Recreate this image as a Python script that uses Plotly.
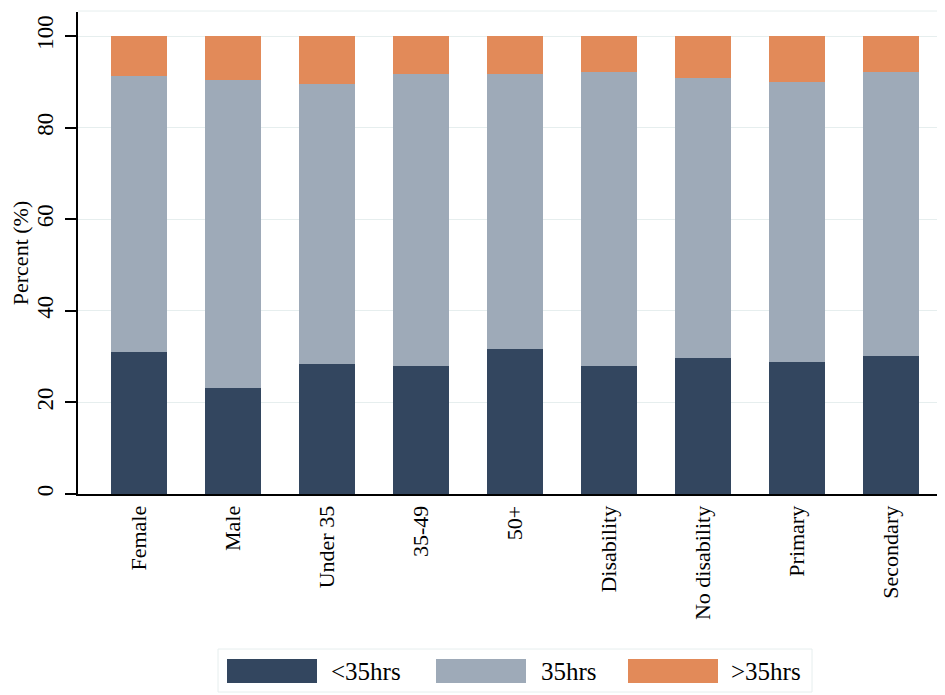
import plotly.graph_objects as go

categories = ["Female", "Male", "Under 35", "35-49", "50+", "Disability",
              "No disability", "Primary", "Secondary"]
series_names = ["<35hrs", "35hrs", ">35hrs"]
under35 = [30.9, 23.1, 28.3, 27.9, 31.7, 27.9, 29.6, 28.8, 30.1]
exact35 = [60.4, 67.3, 61.2, 63.8, 60.0, 64.2, 61.2, 61.1, 62.0]
over35 = [8.7, 9.6, 10.5, 8.3, 8.3, 7.9, 9.2, 10.1, 7.9]
y_ticks = [0, 20, 40, 60, 80, 100]

colors = ["#33465f", "#9eaab8", "#e28a59"]
FONT = "Liberation Serif, Times New Roman, serif"

# page body has an 8px margin; work in screen pixels and shift
OFF = 8
W, H = 945 - OFF, 695 - OFF
L, R, T, B = 78 - OFF, 0, 12 - OFF, 201
pw, ph = W - L - R, H - T - B
step = 94.0
first_center = 61.0

fig = go.Figure()
for name, vals, c in zip(series_names, [under35, exact35, over35], colors):
    fig.add_trace(go.Bar(x=list(range(len(categories))), y=vals, name=name,
                         marker=dict(color=c, line=dict(width=0)), width=0.6,
                         showlegend=False))

def px2x(px):
    return (px - 78) / pw

def py2y(py):
    return (494 - py) / ph

shapes = []
shapes.append(dict(type="line", xref="paper", yref="paper", x0=0, x1=1,
                   y0=py2y(11), y1=py2y(11), line=dict(color="#e6eeee", width=1)))
shapes.append(dict(type="rect", xref="paper", yref="paper",
                   x0=px2x(218), x1=px2x(812), y0=py2y(649), y1=py2y(692),
                   line=dict(color="#e6eeee", width=1), fillcolor="white", layer="below"))
annotations = []
sw_x = [227, 436, 628]
tx_x = [329, 539, 729]
for i, name in enumerate(series_names):
    shapes.append(dict(type="rect", xref="paper", yref="paper",
                       x0=px2x(sw_x[i]), x1=px2x(sw_x[i] + 90),
                       y0=py2y(659), y1=py2y(683),
                       line=dict(color=colors[i], width=0), fillcolor=colors[i]))
    annotations.append(dict(text=name, xref="paper", yref="paper",
                            x=px2x(tx_x[i]), y=py2y(671), xanchor="left", yanchor="middle",
                            showarrow=False, font=dict(family=FONT, size=25, color="black")))

fig.update_layout(
    width=W, height=H,
    margin=dict(l=L, r=R, t=T, b=B, pad=0),
    paper_bgcolor="white", plot_bgcolor="white",
    barmode="stack", bargap=0.4,
    font=dict(family=FONT, color="black"),
    shapes=shapes, annotations=annotations,
    xaxis=dict(
        tickmode="array", tickvals=list(range(len(categories))), ticktext=categories,
        range=[-first_center / step, (pw - first_center) / step],
        tickangle=-90, tickfont=dict(family=FONT, size=22, color="black"),
        showline=True, linecolor="black", linewidth=2, ticks="", showgrid=False,
        zeroline=False, ticklabelstandoff=1,
    ),
    yaxis=dict(
        range=[0, (494 - 12) / 4.58], tickvals=y_ticks,
        tickangle=-90, tickfont=dict(family=FONT, size=23, color="black"),
        showline=True, linecolor="black", linewidth=2,
        ticks="outside", ticklen=11, tickwidth=1.5, tickcolor="black",
        showgrid=True, gridcolor="#e6eeee", gridwidth=1, zeroline=False,
        title=dict(text="Percent (%)", font=dict(family=FONT, size=22, color="black"),
                   standoff=2),
        ticklabelstandoff=3,
    ),
)

fig.write_html("out.html")
